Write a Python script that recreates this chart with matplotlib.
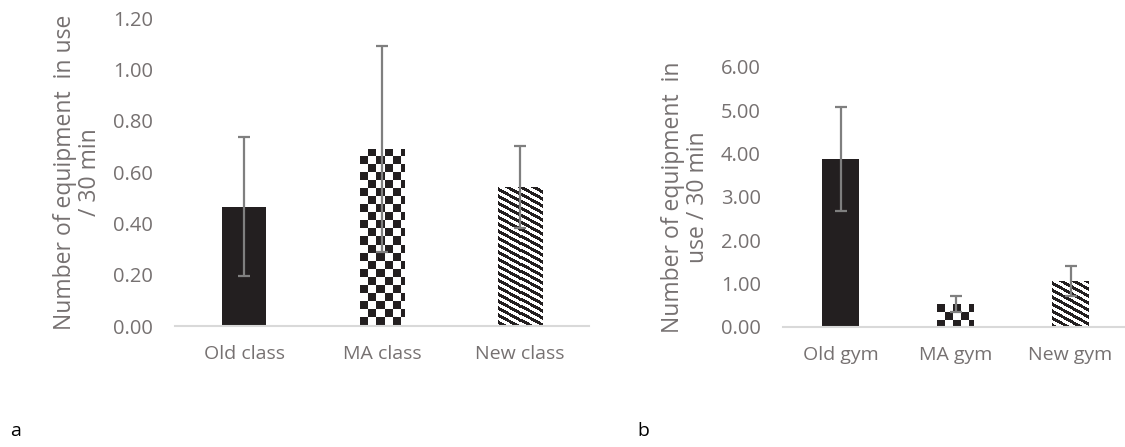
import numpy as np
import matplotlib
matplotlib.use("Agg")
import matplotlib.pyplot as plt
from matplotlib.colors import ListedColormap

# data
class_labels = ["Old class", "MA class", "New class"]
class_means = [0.465, 0.69, 0.54]
class_err = [0.27, 0.40, 0.16]
class_ticks = [0.0, 0.2, 0.4, 0.6, 0.8, 1.0, 1.2]

gym_labels = ["Old gym", "MA gym", "New gym"]
gym_means = [3.87, 0.53, 1.06]
gym_err = [1.20, 0.19, 0.35]
gym_ticks = [0, 1, 2, 3, 4, 5, 6]

patterns = ["solid", "checker", "stripes"]

DARK = "#231f20"
GREY = "#7f7f7f"
TXT = "#767171"
plt.rcParams["font.family"] = ["Open Sans", "DejaVu Sans"]

W, H = 1125, 447
fig = plt.figure(figsize=(W / 100, H / 100), dpi=100)


def pattern_image(kind, w, h, phase):
    i, j = np.mgrid[0:h, 0:w]
    if kind == "checker":
        sq = 8
        return ((i // sq) + (j // sq) + phase) % 2
    # diagonal stripes running down to the right
    period = 7.0
    return (((i - 0.55 * j) % period) < period / 2).astype(int)


def draw_panel(ax, labels, means, err, ticks, ylabel, phase):
    x = np.arange(len(labels))
    bars = ax.bar(x, means, width=0.32, color=DARK, zorder=2)
    ax.set_xlim(-0.5, len(labels) - 0.5)
    ax.set_ylim(ticks[0], ticks[-1])
    cmap = ListedColormap(["white", DARK])
    for bar, kind in zip(bars, patterns):
        if kind == "solid":
            continue
        bar.set_facecolor("white")
        x0, y0 = bar.get_x(), bar.get_y()
        x1, y1 = x0 + bar.get_width(), y0 + bar.get_height()
        p0 = ax.transData.transform((x0, y0))
        p1 = ax.transData.transform((x1, y1))
        w = max(int(round(p1[0] - p0[0])), 1)
        h = max(int(round(p1[1] - p0[1])), 1)
        img = pattern_image(kind, w, h, phase)
        im = ax.imshow(img, extent=(x0, x1, y0, y1), cmap=cmap, vmin=0, vmax=1,
                       interpolation="nearest", aspect="auto", zorder=2.5)
        im.set_clip_path(bar)
    ax.set_xlim(-0.5, len(labels) - 0.5)
    ax.set_ylim(ticks[0], ticks[-1])
    ax.errorbar(x, means, yerr=err, fmt="none", ecolor=GREY, elinewidth=1.6,
                capsize=4.2, capthick=1.6, zorder=3)
    ax.set_xticks(x)
    ax.set_xticklabels(labels, fontsize=14, color=TXT)
    ax.set_yticks(ticks)
    ax.set_yticklabels([f"{t:.2f}" for t in ticks], fontsize=14.5, color=TXT)
    ax.tick_params(axis="both", length=0)
    ax.tick_params(axis="y", pad=16)
    ax.tick_params(axis="x", pad=14)
    for s in ["top", "right", "left"]:
        ax.spines[s].set_visible(False)
    ax.spines["bottom"].set_color("#d9d9d9")
    ax.spines["bottom"].set_linewidth(1.5)
    ax.set_ylabel(ylabel, fontsize=16.5, color=TXT, linespacing=1.05,
                  labelpad=8)


ax1 = fig.add_axes([175 / W, (H - 326) / H, 414 / W, 308 / H])
draw_panel(ax1, class_labels, class_means, class_err, class_ticks,
           "Number of equipment  in use\n/ 30 min", 0)

ax2 = fig.add_axes([783 / W, (H - 327) / H, 345 / W, 260 / H])
draw_panel(ax2, gym_labels, gym_means, gym_err, gym_ticks,
           "Number of equipment  in\nuse / 30 min", 1)

fig.text(10 / W, (H - 431) / H, "a", fontsize=14, va="center", ha="left")
fig.text(637 / W, (H - 431) / H, "b", fontsize=14, va="center", ha="left")

fig.savefig("out.png", dpi=100)
